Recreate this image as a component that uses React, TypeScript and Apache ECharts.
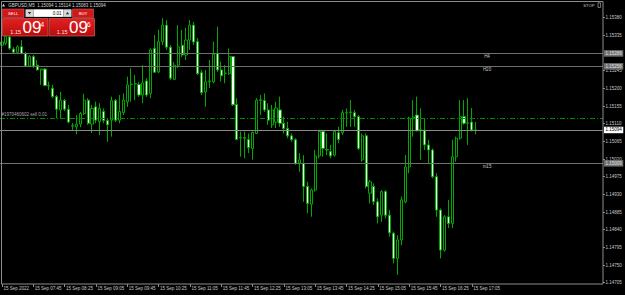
import React, { useEffect, useRef } from "react";
import * as echarts from "echarts";

// ---- data (GBPUSD, M5, 15 Sep 2022) ----
const symbolTitle = "GBPUSD,M5";
const titleQuote = ["1.15094", "1.15114", "1.15083", "1.15094"];

// bar times (M5, first bar 07:05)
const firstBarMinutes = 7 * 60 + 5;
const barCount = 122;
const slotCount = 154; // visible slots incl. empty right shift

const xTickLabels = [
  "15 Sep 2022", "15 Sep 07:45", "15 Sep 08:25", "15 Sep 09:05", "15 Sep 09:45",
  "15 Sep 10:25", "15 Sep 11:05", "15 Sep 11:45", "15 Sep 12:25", "15 Sep 13:05",
  "15 Sep 13:45", "15 Sep 14:25", "15 Sep 15:05", "15 Sep 15:45", "15 Sep 16:25",
  "15 Sep 17:05",
];

const yTicks = [
  1.14705, 1.1475, 1.14795, 1.1484, 1.14885, 1.1493, 1.14975, 1.1502, 1.15065,
  1.1511, 1.15155, 1.152, 1.15245, 1.15335, 1.1538,
];

// [open, close, low, high]
const ohlc: number[][] = [
  [1.1531, 1.15318, 1.15302, 1.15322],
  [1.15315, 1.15333, 1.1531, 1.15336],
  [1.15331, 1.15302, 1.15298, 1.15333],
  [1.153, 1.15292, 1.1529, 1.15305],
  [1.15292, 1.15306, 1.1529, 1.1531],
  [1.15306, 1.15289, 1.15287, 1.15323],
  [1.15289, 1.15257, 1.15254, 1.15293],
  [1.15257, 1.15281, 1.15254, 1.15285],
  [1.15281, 1.15257, 1.15252, 1.15285],
  [1.15259, 1.15247, 1.15245, 1.15272],
  [1.15247, 1.15249, 1.15209, 1.1525],
  [1.15249, 1.15207, 1.15205, 1.15252],
  [1.15206, 1.15207, 1.15196, 1.15217],
  [1.152, 1.15179, 1.15175, 1.15209],
  [1.15179, 1.15147, 1.15124, 1.15183],
  [1.15145, 1.1517, 1.15124, 1.15191],
  [1.15169, 1.15147, 1.15142, 1.15173],
  [1.15147, 1.15114, 1.15111, 1.15158],
  [1.15105, 1.15104, 1.15094, 1.15112],
  [1.15102, 1.15109, 1.15083, 1.15132],
  [1.15109, 1.15136, 1.15101, 1.1514],
  [1.15136, 1.1517, 1.15132, 1.15186],
  [1.1517, 1.15111, 1.15107, 1.15175],
  [1.15109, 1.15149, 1.15086, 1.15158],
  [1.15153, 1.15119, 1.15111, 1.15166],
  [1.15115, 1.15149, 1.15081, 1.15162],
  [1.15141, 1.15118, 1.15111, 1.15149],
  [1.15118, 1.15107, 1.15064, 1.15124],
  [1.15119, 1.15169, 1.15077, 1.15179],
  [1.15169, 1.15119, 1.15114, 1.15173],
  [1.15119, 1.15141, 1.15111, 1.15183],
  [1.15138, 1.1517, 1.15132, 1.15187],
  [1.15166, 1.15209, 1.15153, 1.1523],
  [1.1521, 1.15211, 1.15166, 1.15251],
  [1.15211, 1.15212, 1.1517, 1.15234],
  [1.1521, 1.15183, 1.15178, 1.15216],
  [1.15183, 1.15214, 1.15162, 1.15259],
  [1.15219, 1.15183, 1.15178, 1.15226],
  [1.15187, 1.15298, 1.15175, 1.15302],
  [1.15302, 1.15241, 1.15239, 1.15336],
  [1.15242, 1.15319, 1.15239, 1.15349],
  [1.15319, 1.15361, 1.1531, 1.15379],
  [1.15361, 1.15305, 1.15298, 1.15374],
  [1.15305, 1.15226, 1.15221, 1.1531],
  [1.15223, 1.15259, 1.15221, 1.15267],
  [1.15259, 1.15306, 1.15252, 1.15361],
  [1.1531, 1.15285, 1.1528, 1.15349],
  [1.15285, 1.15323, 1.15272, 1.15354],
  [1.15323, 1.15361, 1.15298, 1.15374],
  [1.15361, 1.15318, 1.1531, 1.15369],
  [1.15319, 1.15238, 1.15234, 1.15328],
  [1.1524, 1.15189, 1.15183, 1.15247],
  [1.15191, 1.15217, 1.15153, 1.15247],
  [1.15217, 1.15219, 1.15201, 1.15272],
  [1.15217, 1.15287, 1.15213, 1.15319],
  [1.15289, 1.15247, 1.15242, 1.15357],
  [1.15247, 1.15232, 1.15217, 1.15268],
  [1.15238, 1.15239, 1.15213, 1.15259],
  [1.15238, 1.15281, 1.15234, 1.15302],
  [1.15281, 1.15158, 1.15155, 1.15282],
  [1.15159, 1.1507, 1.15068, 1.15175],
  [1.15075, 1.15074, 1.15026, 1.1509],
  [1.15074, 1.15073, 1.15022, 1.1509],
  [1.1507, 1.15049, 1.15035, 1.15085],
  [1.15047, 1.15088, 1.15018, 1.1509],
  [1.15085, 1.1517, 1.15084, 1.15175],
  [1.15169, 1.15171, 1.15132, 1.15183],
  [1.15169, 1.15145, 1.1514, 1.15187],
  [1.15145, 1.15119, 1.15107, 1.15162],
  [1.15107, 1.15145, 1.15099, 1.15158],
  [1.15114, 1.1515, 1.15099, 1.15166],
  [1.15145, 1.15111, 1.15102, 1.15179],
  [1.15111, 1.15098, 1.15085, 1.15128],
  [1.15098, 1.15079, 1.15073, 1.15115],
  [1.15079, 1.15069, 1.15064, 1.15085],
  [1.15069, 1.15009, 1.15005, 1.15073],
  [1.1501, 1.15018, 1.14988, 1.15035],
  [1.15009, 1.1495, 1.14911, 1.1503],
  [1.1495, 1.14907, 1.14882, 1.14962],
  [1.14905, 1.14941, 1.14873, 1.14945],
  [1.14941, 1.15028, 1.14937, 1.15043],
  [1.15028, 1.1509, 1.15022, 1.15094],
  [1.1509, 1.15047, 1.15026, 1.15094],
  [1.15044, 1.15043, 1.1503, 1.15085],
  [1.15039, 1.15028, 1.15022, 1.15056],
  [1.1503, 1.1509, 1.15026, 1.15094],
  [1.15087, 1.1507, 1.1506, 1.15102],
  [1.15087, 1.15138, 1.15081, 1.15145],
  [1.15137, 1.15138, 1.15102, 1.15149],
  [1.15138, 1.1514, 1.15102, 1.1517],
  [1.15138, 1.15128, 1.15102, 1.15145],
  [1.15128, 1.15047, 1.15043, 1.15132],
  [1.15018, 1.15079, 1.15013, 1.15085],
  [1.15079, 1.1495, 1.14945, 1.15085],
  [1.14933, 1.14962, 1.14907, 1.14967],
  [1.1495, 1.14911, 1.14903, 1.14958],
  [1.14911, 1.14873, 1.14856, 1.1492],
  [1.14877, 1.14937, 1.1486, 1.14941],
  [1.14937, 1.14877, 1.14869, 1.14941],
  [1.14877, 1.14832, 1.14822, 1.1489],
  [1.14831, 1.14767, 1.14754, 1.14835],
  [1.14767, 1.14814, 1.14725, 1.14826],
  [1.14814, 1.14916, 1.14801, 1.14924],
  [1.14911, 1.15, 1.14907, 1.1503],
  [1.15, 1.15124, 1.14984, 1.15128],
  [1.15124, 1.15127, 1.15077, 1.1517],
  [1.15132, 1.15092, 1.1509, 1.15179],
  [1.15092, 1.15095, 1.15018, 1.15149],
  [1.15094, 1.15056, 1.15043, 1.15124],
  [1.15056, 1.15043, 1.15009, 1.15069],
  [1.15043, 1.14975, 1.14971, 1.15047],
  [1.14975, 1.1489, 1.14873, 1.14984],
  [1.1489, 1.14788, 1.14767, 1.14894],
  [1.14788, 1.14873, 1.14784, 1.14877],
  [1.14873, 1.14856, 1.14844, 1.14916],
  [1.14856, 1.15026, 1.14844, 1.15069],
  [1.15026, 1.15073, 1.15013, 1.15077],
  [1.15073, 1.15128, 1.15069, 1.1517],
  [1.15128, 1.15111, 1.15107, 1.1517],
  [1.15111, 1.15112, 1.15056, 1.15175],
  [1.15114, 1.15094, 1.1509, 1.1515],
  [1.15094, 1.15094, 1.15083, 1.15114],
];

const levelNames = ["H4", "H20", "m15"];
const levelPrices = [1.15289, 1.15256, 1.15009];
const bidPrice = 1.15094;
const orderPrice = 1.15124;
const orderLabel = "#1970460602 sell 0.01";
const sellQuote = ["1.15", "09", "4"];
const buyQuote = ["1.15", "09", "6"];
const lotSize = "0.01";

const FONT = "'Liberation Sans', Arial, sans-serif";
const AXIS_GRAY = "#8c8c8c";
const TEXT_GRAY = "#c8c8c8";
const GREEN = "#00a800";

function pad2(n: number) {
  return n < 10 ? "0" + n : "" + n;
}

export default function App() {
  const ref = useRef<HTMLDivElement>(null);
  useEffect(() => {
    const el = ref.current;
    if (!el) return;
    const chart = echarts.init(el, null, { renderer: "svg" });

    const cats: string[] = [];
    for (let i = 0; i < slotCount; i++) {
      if (i < barCount) {
        const m = firstBarMinutes + i * 5;
        cats.push(pad2(Math.floor(m / 60)) + ":" + pad2(m % 60));
      } else cats.push("");
    }
    const showTick = (i: number) => i % 8 === 0 && i < barCount;

    const boxLabel = (txt: string, bg: string, fg: string) => ({
      show: true,
      position: "end",
      distance: 1,
      formatter: txt,
      backgroundColor: bg,
      color: fg,
      fontSize: 4.5,
      fontFamily: FONT,
      padding: [1, 1.5, 0.5, 1.5],
    });

    const option: any = {
      animation: false,
      backgroundColor: "#000000",
      textStyle: { fontFamily: FONT },
      grid: { left: 0, right: 22, top: 1, bottom: 11, show: false },
      xAxis: {
        type: "category",
        data: cats,
        boundaryGap: true,
        axisLine: { show: false },
        axisTick: {
          show: true,
          alignWithLabel: true,
          length: 3,
          interval: (i: number) => showTick(i),
          lineStyle: { color: AXIS_GRAY },
        },
        axisLabel: {
          show: true,
          interval: (i: number) => showTick(i),
          formatter: (_v: string, i: number) => xTickLabels[Math.round(i / 8)] ?? "",
          color: TEXT_GRAY,
          fontSize: 4.5,
          fontFamily: FONT,
          align: "left",
          margin: 2,
          padding: [0, 0, 0, 1.5],
        },
        splitLine: { show: false },
      },
      yAxis: {
        type: "value",
        position: "right",
        min: 1.147017,
        max: 1.154225,
        scale: true,
        axisLine: { show: false },
        axisTick: {
          show: true,
          length: 2,
          customValues: yTicks,
          lineStyle: { color: AXIS_GRAY },
        },
        axisLabel: {
          show: true,
          customValues: yTicks,
          formatter: (v: number) => v.toFixed(5),
          color: TEXT_GRAY,
          fontSize: 4.5,
          fontFamily: FONT,
          margin: 2.5,
        },
        splitLine: { show: false },
      },
      series: [
        {
          type: "line",
          data: [],
          silent: true,
          markLine: {
            silent: true,
            precision: 5,
            symbol: ["none", "none"],
            animation: false,
            data: [
              ...levelPrices.map((p) => ({
                yAxis: p,
                lineStyle: { color: "#6e6e6e", type: "solid", width: 1 },
                label: boxLabel(p.toFixed(5), "#707070", "#e0e0e0"),
              })),
              {
                yAxis: bidPrice,
                lineStyle: { color: "#8a8a8a", type: "solid", width: 1 },
                label: boxLabel(bidPrice.toFixed(5), "#ffffff", "#000000"),
              },
              {
                yAxis: orderPrice,
                lineStyle: { color: "#008c00", type: [5, 2, 1, 2], width: 1 },
                label: {
                  show: true,
                  position: "insideStartTop",
                  formatter: orderLabel,
                  color: "#a8a8a8",
                  fontSize: 4.5,
                  fontFamily: FONT,
                  distance: 1.5,
                },
              },
            ],
          },
        },
        {
          type: "candlestick",
          data: ohlc,
          barWidth: 2.6,
          silent: true,
          z: 3,
          itemStyle: {
            color: "#000000",
            color0: "#f4fff4",
            borderColor: GREEN,
            borderColor0: GREEN,
            borderWidth: 1,
          },
        },
      ],
    };
    chart.setOption(option);

    const levelTexts = levelPrices.map((p, k) => {
      const py = chart.convertToPixel({ yAxisIndex: 0 }, p) as number;
      return {
        type: "text",
        x: 487,
        y: py + 3.3,
        silent: true,
        style: {
          text: levelNames[k],
          fill: TEXT_GRAY,
          fontSize: 4.5,
          fontFamily: FONT,
          align: "center",
          verticalAlign: "middle",
        },
      };
    });

    const red = "#d01818";
    const txt = (x: number, y: number, text: string, size: number, fill: string, align = "left", va = "middle") => ({
      type: "text",
      x,
      y,
      silent: true,
      style: { text, fill, fontSize: size, fontFamily: FONT, align, verticalAlign: va },
    });
    const quoteBox = (x0: number, q: string[]) => [
      {
        type: "rect",
        shape: { x: x0, y: 18.5, width: 45.5, height: 17.5 },
        style: {
          fill: new echarts.graphic.LinearGradient(0, 0, 0, 1, [
            { offset: 0, color: "#e42020" },
            { offset: 1, color: "#b80c0c" },
          ]),
          stroke: "#e86a6a",
          lineWidth: 0.6,
        },
      },
      txt(x0 + 13.2, 31.6, q[0], 5.5, "#ffe0e0", "center"),
      txt(x0 + 20, 35.6, q[1], 17, "#ffffff", "left", "bottom"),
      txt(x0 + 38, 24.2, q[2], 6.5, "#ffffff", "left"),
    ];

    const graphics: any[] = [
      {
        type: "rect",
        shape: { x: 1.5, y: 1.5, width: 601.5, height: 282.5 },
        style: { fill: "none", stroke: AXIS_GRAY, lineWidth: 1 },
        silent: true,
        z: 10,
      },
      ...levelTexts,
      {
        type: "polygon",
        shape: { points: [[2, 6.6], [5, 6.6], [3.5, 3.6]] },
        style: { fill: "#c8c8c8" },
      },
      txt(8.3, 5.2, symbolTitle + "  " + titleQuote.join(" "), 4.5, "#d6d6d6"),
      txt(583.3, 5.3, "STOP", 4.2, TEXT_GRAY),
      {
        type: "rect",
        shape: { x: 598, y: 2.8, width: 2.6, height: 4.6 },
        style: { fill: "none", stroke: TEXT_GRAY, lineWidth: 0.6 },
      },
      {
        type: "rect",
        shape: { x: 2.5, y: 9, width: 21.5, height: 8.5 },
        style: { fill: red, stroke: "#e86a6a", lineWidth: 0.5 },
      },
      txt(13.2, 13.3, "SELL", 4.2, "#ffffff", "center"),
      { type: "rect", shape: { x: 25.5, y: 9.3, width: 8, height: 7.6 }, style: { fill: "#d6d6d6" } },
      { type: "polygon", shape: { points: [[27.9, 12], [31.1, 12], [29.5, 14.3]] }, style: { fill: "#202020" } },
      { type: "rect", shape: { x: 33.5, y: 9.3, width: 30, height: 7.6 }, style: { fill: "#ffffff" } },
      txt(61.5, 13.2, lotSize, 4.5, "#000000", "right"),
      { type: "rect", shape: { x: 63.5, y: 9.3, width: 8, height: 7.6 }, style: { fill: "#d6d6d6" } },
      { type: "polygon", shape: { points: [[65.9, 14.2], [69.1, 14.2], [67.5, 11.9]] }, style: { fill: "#202020" } },
      {
        type: "rect",
        shape: { x: 72.5, y: 9, width: 21, height: 8.5 },
        style: { fill: red, stroke: "#e86a6a", lineWidth: 0.5 },
      },
      txt(83, 13.3, "BUY", 4.2, "#ffffff", "center"),
      ...quoteBox(2.5, sellQuote),
      ...quoteBox(49, buyQuote),
    ];
    chart.setOption({ graphic: graphics });

    return () => {
      chart.dispose();
    };
  }, []);

  return (
    <div
      ref={ref}
      style={{ position: "fixed", left: 0, top: 0, width: 625, height: 295, background: "#000000" }}
    />
  );
}
